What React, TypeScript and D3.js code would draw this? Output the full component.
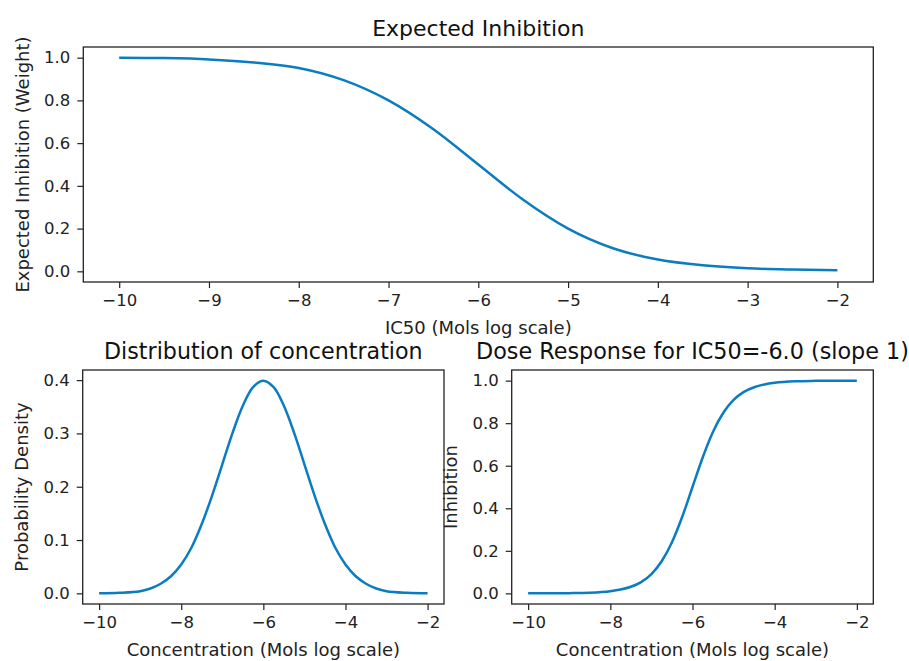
import * as d3 from "d3";
import React, { useEffect, useRef } from "react";

// Expected inhibition vs IC50
const ic50X = [-10, -9.5, -9, -8.5, -8, -7.5, -7, -6.5, -6, -5.5, -5, -4.5, -4, -3.5, -3, -2.5, -2];
const expectedInhibition = [1.0, 0.998, 0.992, 0.978, 0.952, 0.895, 0.8, 0.665, 0.5, 0.335, 0.2, 0.108, 0.055, 0.028, 0.014, 0.008, 0.005];

// Distribution of concentration
const concX = [
  -10, -9.5, -9, -8.75, -8.5, -8.25, -8, -7.75, -7.5, -7.25, -7, -6.75, -6.5, -6.25, -6,
  -5.75, -5.5, -5.25, -5, -4.75, -4.5, -4.25, -4, -3.75, -3.5, -3.25, -3, -2.5, -2,
];
const density = [
  0.0, 0.001, 0.004, 0.009, 0.018, 0.032, 0.054, 0.086, 0.13, 0.183, 0.242, 0.301, 0.352, 0.387, 0.399,
  0.387, 0.352, 0.301, 0.242, 0.183, 0.13, 0.086, 0.054, 0.032, 0.018, 0.009, 0.004, 0.001, 0.0,
];

// Dose response for IC50 = -6
const doseX = [
  -10, -9.5, -9, -8.5, -8, -7.75, -7.5, -7.25, -7, -6.75, -6.5, -6.25, -6,
  -5.75, -5.5, -5.25, -5, -4.75, -4.5, -4.25, -4, -3.5, -3, -2.5, -2,
];
const inhibition = [
  0.0, 0.0003, 0.001, 0.003, 0.01, 0.018, 0.031, 0.053, 0.091, 0.151, 0.24, 0.36, 0.5,
  0.64, 0.76, 0.849, 0.909, 0.947, 0.969, 0.982, 0.99, 0.997, 0.999, 1.0, 1.0,
];

const topXTicks = [-10, -9, -8, -7, -6, -5, -4, -3, -2];
const bottomXTicks = [-10, -8, -6, -4, -2];
const topYTicks = [0, 0.2, 0.4, 0.6, 0.8, 1.0];
const densityYTicks = [0, 0.1, 0.2, 0.3, 0.4];

const FONT = "DejaVu Sans, sans-serif";
const LINE = "#0a7cc0";

type Panel = {
  left: number;
  right: number;
  top: number;
  bottom: number;
  xDomain: [number, number];
  yDomain: [number, number];
  xs: number[];
  ys: number[];
  xTicks: number[];
  yTicks: number[];
  title: string;
  titleSize: number;
  xLabel: string;
  yLabel: string;
  yLabelX: number;
  curve: d3.CurveFactory;
};

const drawPanel = (svg: d3.Selection<SVGSVGElement, unknown, null, undefined>, p: Panel) => {
  const x = d3.scaleLinear().domain(p.xDomain).range([p.left, p.right]);
  const y = d3.scaleLinear().domain(p.yDomain).range([p.bottom, p.top]);
  const g = svg.append("g");

  const pts = p.xs.map((v, i) => [v, p.ys[i]] as [number, number]);
  const line = d3
    .line<[number, number]>()
    .x((d) => x(d[0]))
    .y((d) => y(d[1]))
    .curve(p.curve);

  g.append("path")
    .datum(pts)
    .attr("fill", "none")
    .attr("stroke", LINE)
    .attr("stroke-width", 2.5)
    .attr("d", line);

  const xAxis = g
    .append("g")
    .attr("transform", `translate(0,${p.bottom})`)
    .call(d3.axisBottom(x).tickValues(p.xTicks).tickFormat(d3.format("d")).tickSizeOuter(0).tickSize(6).tickPadding(6));
  const yAxis = g
    .append("g")
    .attr("transform", `translate(${p.left},0)`)
    .call(d3.axisLeft(y).tickValues(p.yTicks).tickFormat(d3.format(".1f")).tickSizeOuter(0).tickSize(6).tickPadding(7));

  [xAxis, yAxis].forEach((a) => {
    a.select(".domain").remove();
    a.selectAll("line").attr("stroke", "#222").attr("stroke-width", 1.2);
    a.selectAll("text").attr("fill", "#222").style("font-family", FONT).style("font-size", "16.5px");
  });

  // frame
  g.append("rect")
    .attr("x", p.left)
    .attr("y", p.top)
    .attr("width", p.right - p.left)
    .attr("height", p.bottom - p.top)
    .attr("fill", "none")
    .attr("stroke", "#222")
    .attr("stroke-width", 1.3);

  g.append("text")
    .attr("x", (p.left + p.right) / 2)
    .attr("y", p.top - 11)
    .attr("text-anchor", "middle")
    .attr("fill", "#111")
    .style("font-family", FONT)
    .style("font-size", `${p.titleSize}px`)
    .text(p.title);

  g.append("text")
    .attr("x", (p.left + p.right) / 2)
    .attr("y", p.bottom + 52)
    .attr("text-anchor", "middle")
    .attr("fill", "#222")
    .style("font-family", FONT)
    .style("font-size", "18px")
    .text(p.xLabel);

  g.append("text")
    .attr("transform", `translate(${p.yLabelX},${(p.top + p.bottom) / 2}) rotate(-90)`)
    .attr("dy", "0.35em")
    .attr("text-anchor", "middle")
    .attr("fill", "#222")
    .style("font-family", FONT)
    .style("font-size", "18px")
    .text(p.yLabel);
};

const App = () => {
  const svgRef = useRef<SVGSVGElement>(null);

  useEffect(() => {
    const svg = d3.select(svgRef.current!);
    svg.selectAll("*").remove();

    drawPanel(svg, {
      left: 83.3, right: 873.3, top: 47, bottom: 282,
      xDomain: [-10.4, -1.6], yDomain: [-0.05, 1.05],
      xs: ic50X, ys: expectedInhibition,
      xTicks: topXTicks, yTicks: topYTicks,
      title: "Expected Inhibition",
      titleSize: 22,
      xLabel: "IC50 (Mols log scale)",
      yLabel: "Expected Inhibition (Weight)",
      yLabelX: 23,
      curve: d3.curveMonotoneX,
    });

    drawPanel(svg, {
      left: 82.7, right: 444, top: 370, bottom: 604,
      xDomain: [-10.4, -1.6], yDomain: [-0.02, 0.419],
      xs: concX, ys: density,
      xTicks: bottomXTicks, yTicks: densityYTicks,
      title: "Distribution of concentration",
      titleSize: 22.2,
      xLabel: "Concentration (Mols log scale)",
      yLabel: "Probability Density",
      yLabelX: 22,
      curve: d3.curveCatmullRom.alpha(0.5),
    });

    drawPanel(svg, {
      left: 511.7, right: 873.3, top: 370, bottom: 604,
      xDomain: [-10.4, -1.6], yDomain: [-0.05, 1.05],
      xs: doseX, ys: inhibition,
      xTicks: bottomXTicks, yTicks: topYTicks,
      title: "Dose Response for IC50=-6.0 (slope 1)",
      titleSize: 22.3,
      xLabel: "Concentration (Mols log scale)",
      yLabel: "Inhibition",
      yLabelX: 451,
      curve: d3.curveMonotoneX,
    });
  }, []);

  return (
    <div style={{ position: "fixed", left: 0, top: 0, width: 909, height: 661, background: "#fff" }}>
      <svg ref={svgRef} width={909} height={661}></svg>
    </div>
  );
};

export default App;
